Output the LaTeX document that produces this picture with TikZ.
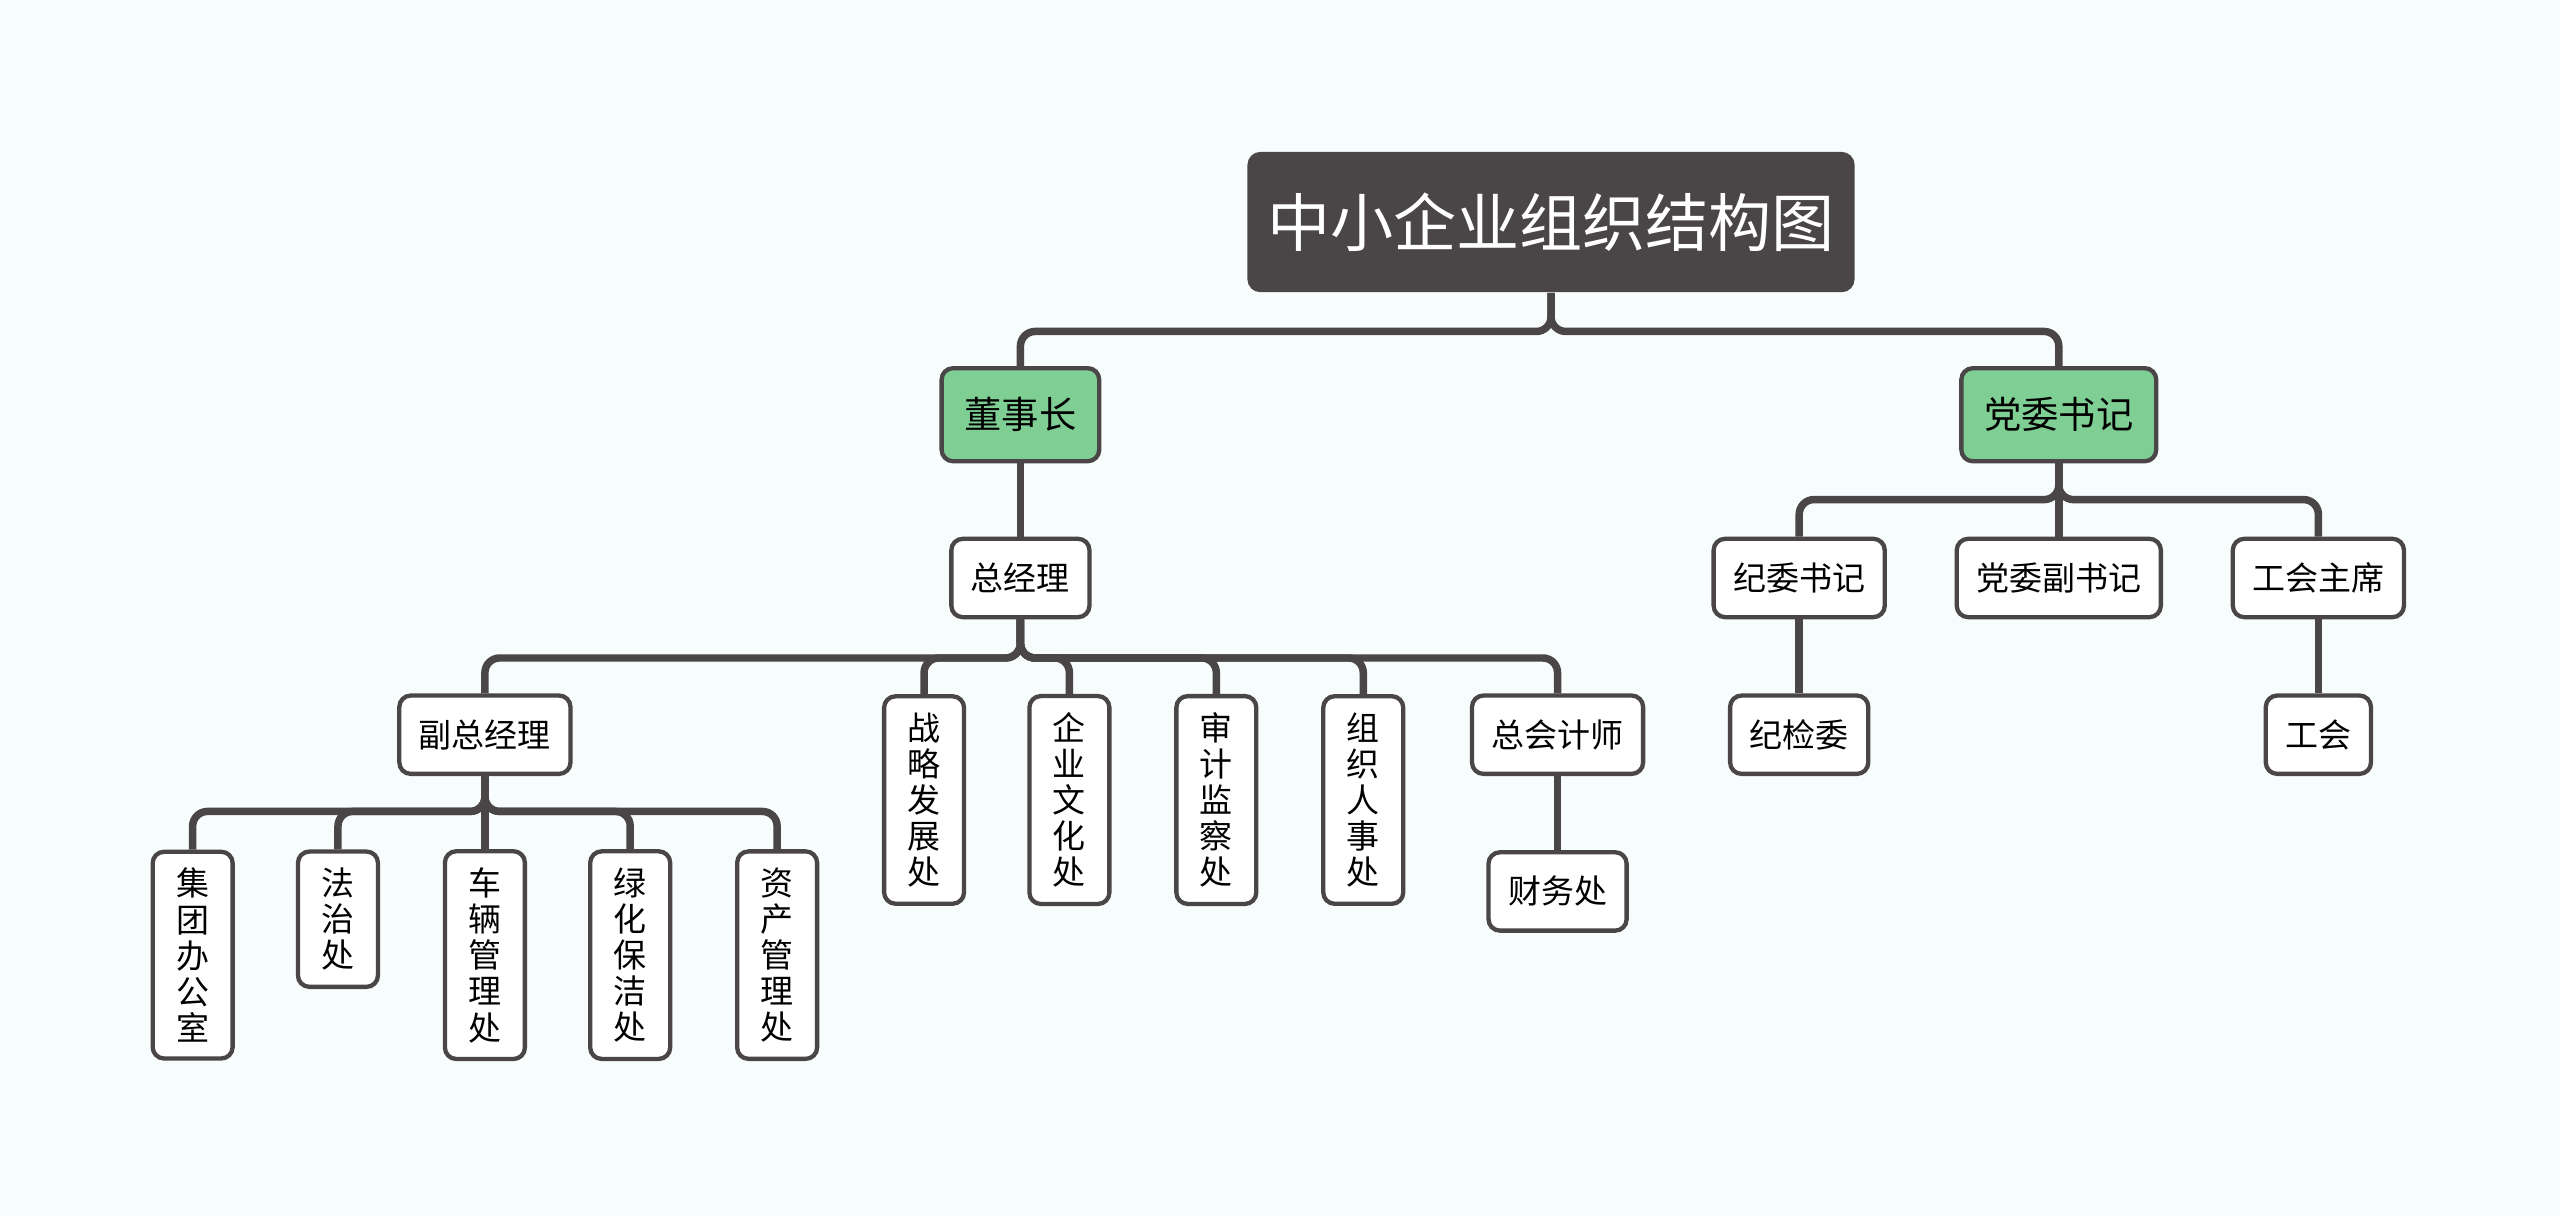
\documentclass[tikz,border=0pt]{standalone}
\usepackage{fontspec}
\setmainfont{Noto Sans CJK SC}
\definecolor{lineclr}{HTML}{4A4546}
\definecolor{leaderclr}{HTML}{7FCF95}
\definecolor{bgclr}{HTML}{F7FCFC}
\tikzset{
  box/.style={draw=lineclr, line width=1.5pt, fill=white, rounded corners=0.14cm,
    minimum height=0.96cm, inner xsep=0.24cm, font=\fontsize{11.5}{13}\selectfont},
  leader/.style={box, fill=leaderclr, minimum height=1.14cm, inner xsep=0.28cm, font=\fontsize{13}{15}\selectfont},
  vbox/.style={box, text width=0.45cm, align=center, minimum width=0.98cm, inner xsep=0pt,
    inner ysep=0.2cm, font=\fontsize{11.5}{12.6}\selectfont},
  conn/.style={draw=lineclr, line width=2.6pt, rounded corners=0.18cm}
}
\newcommand{\branch}[3]{\draw[conn] (#1.south) -- (#1.south |- 0,#3) -| (#2.north);}
\begin{document}
\begin{tikzpicture}[x=0.02cm, y=-0.02cm]
  \fill[bgclr] (0,0) rectangle (1568,745);
  \useasboundingbox (0,0) rectangle (1568,745);
  % Title
  \node[fill=lineclr, text=white, rounded corners=0.16cm, minimum width=7.44cm, minimum height=1.72cm,
    font=\fontsize{22}{26}\selectfont] (title) at (950,136) {中小企业组织结构图};
  % Leaders
  \node[leader] (chair) at (625,254) {董事长};
  \node[leader] (party) at (1261,254) {党委书记};
  % Left branch
  \node[box] (gm) at (625,354) {总经理};
  \node[box] (vgm) at (297,450) {副总经理};
  \node[vbox] (strat) at (566,490) {战\\略\\发\\展\\处};
  \node[vbox] (culture) at (655,490) {企\\业\\文\\化\\处};
  \node[vbox] (audit) at (745,490) {审\\计\\监\\察\\处};
  \node[vbox] (hr) at (835,490) {组\\织\\人\\事\\处};
  \node[box] (cfo) at (954,450) {总会计师};
  \node[box] (fin) at (954,546) {财务处};
  \node[vbox] (office) at (118,585) {集\\团\\办\\公\\室};
  \node[vbox] (legal) at (207,563) {法\\治\\处};
  \node[vbox] (vehicle) at (297,585) {车\\辆\\管\\理\\处};
  \node[vbox] (green) at (386,585) {绿\\化\\保\\洁\\处};
  \node[vbox] (asset) at (476,585) {资\\产\\管\\理\\处};
  % Right branch
  \node[box] (disc) at (1102,354) {纪委书记};
  \node[box] (vparty) at (1261,354) {党委副书记};
  \node[box] (union) at (1420,354) {工会主席};
  \node[box] (inspect) at (1102,450) {纪检委};
  \node[box] (unionb) at (1420,450) {工会};
  % Connectors
  \branch{title}{chair}{203}
  \branch{title}{party}{203}
  \draw[conn] (chair) -- (gm);
  \foreach \c in {vgm,strat,culture,audit,hr,cfo} {\branch{gm}{\c}{403}}
  \draw[conn] (cfo) -- (fin);
  \foreach \c in {office,legal,vehicle,green,asset} {\branch{vgm}{\c}{497}}
  \foreach \c in {disc,vparty,union} {\branch{party}{\c}{306}}
  \draw[conn] (disc) -- (inspect);
  \draw[conn] (union) -- (unionb);
\end{tikzpicture}
\end{document}
